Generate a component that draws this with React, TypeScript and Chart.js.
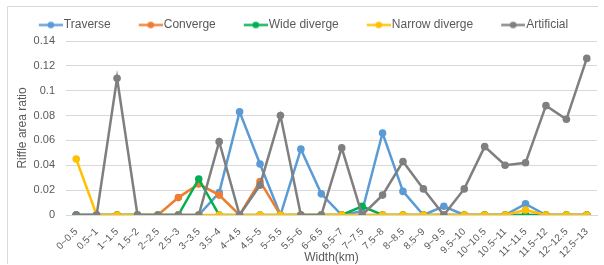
import { useEffect, useRef } from "react";
import { Chart, registerables } from "chart.js";

Chart.register(...registerables);

const categories = [
  "0~0.5", "0.5~1", "1~1.5", "1.5~2", "2~2.5", "2.5~3", "3~3.5", "3.5~4", "4~4.5", "4.5~5",
  "5~5.5", "5.5~6", "6~6.5", "6.5~7", "7~7.5", "7.5~8", "8~8.5", "8.5~9", "9~9.5", "9.5~10",
  "10~10.5", "10.5~11", "11~11.5", "11.5~12", "12~12.5", "12.5~13",
];

const traverse = [0, 0, 0, 0, 0, 0, 0, 0.018, 0.083, 0.041, 0, 0.053, 0.017, 0, 0.003, 0.066, 0.019, 0, 0.007, 0, 0, 0, 0.009, 0, 0, 0];
const converge = [0, 0, 0, 0, 0, 0.014, 0.025, 0.016, 0, 0.027, 0, 0, 0, 0, 0, 0, 0, 0, 0, 0, 0, 0, 0, 0, 0, 0];
const wideDiverge = [0, 0, 0, 0, 0, 0, 0.029, 0, 0, 0, 0, 0, 0, 0, 0.007, 0, 0, 0, 0, 0, 0, 0, 0, 0, 0, 0];
const narrowDiverge = [0.045, 0, 0, 0, 0, 0, 0, 0, 0, 0, 0, 0, 0, 0, 0, 0, 0, 0, 0, 0, 0, 0, 0.004, 0, 0, 0];
const artificial = [0, 0, 0.11, 0, 0, 0, 0, 0.059, 0, 0.024, 0.08, 0, 0, 0.054, 0, 0.016, 0.043, 0.021, 0, 0.021, 0.055, 0.04, 0.042, 0.088, 0.077, 0.126];

const seriesNames = ["Traverse", "Converge", "Wide diverge", "Narrow diverge", "Artificial"];
const seriesColors = ["#5B9BD5", "#ED7D31", "#00B050", "#FFC000", "#7F7F7F"];
const seriesValues = [traverse, converge, wideDiverge, narrowDiverge, artificial];

const yTicks = [0, 0.02, 0.04, 0.06, 0.08, 0.1, 0.12, 0.14];

const TEXT = "#595959";
const FONT = "'Liberation Sans', Arial, sans-serif";

function legendSwatch(color: string): HTMLCanvasElement {
  const c = document.createElement("canvas");
  c.width = 47;
  c.height = 9;
  const g = c.getContext("2d")!;
  g.strokeStyle = color;
  g.lineWidth = 2.25;
  g.beginPath();
  g.moveTo(23, 4.5);
  g.lineTo(47, 4.5);
  g.stroke();
  g.fillStyle = color;
  g.beginPath();
  g.arc(35, 4.5, 3.3, 0, Math.PI * 2);
  g.fill();
  return c;
}

export default function App() {
  const ref = useRef<HTMLCanvasElement>(null);

  useEffect(() => {
    document.body.style.margin = "0";
    const canvas = ref.current;
    if (!canvas) return;
    const swatches = seriesColors.map(legendSwatch);

    const framePlugin = {
      id: "frame",
      afterLayout(chart: any) {
        const lg = chart.legend;
        if (lg) {
          lg.left -= 8;
          lg.right -= 8;
        }
      },
      beforeDraw(chart: any) {
        const ctx = chart.ctx;
        ctx.save();
        ctx.strokeStyle = "#d9d9d9";
        ctx.lineWidth = 1;
        ctx.beginPath();
        ctx.moveTo(7.5, 264);
        ctx.lineTo(7.5, 6.5);
        ctx.lineTo(598, 6.5);
        ctx.stroke();
        ctx.restore();
      },
    };

    const chart = new Chart(canvas, {
      type: "line",
      data: {
        labels: categories,
        datasets: seriesValues.map((vals, i) => ({
          label: seriesNames[i],
          data: vals,
          borderColor: seriesColors[i],
          backgroundColor: seriesColors[i],
          pointBackgroundColor: seriesColors[i],
          pointBorderColor: seriesColors[i],
          borderWidth: 2.5,
          pointRadius: 3.8,
          pointBorderWidth: 0,
          tension: 0,
          fill: false,
          order: seriesValues.length - 1 - i,
        })),
      },
      options: {
        animation: false,
        responsive: false,
        maintainAspectRatio: false,
        devicePixelRatio: 1,
        layout: { padding: { left: 8, right: 7, top: 9, bottom: 0 } },
        plugins: {
          tooltip: { enabled: false },
          legend: {
            display: true,
            position: "top",
            labels: {
              usePointStyle: true,
              pointStyleWidth: 37,
              padding: 10,
              color: TEXT,
              font: { family: FONT, size: 12 },
              generateLabels: (ch: any) =>
                ch.data.datasets.map((ds: any, i: number) => ({
                  text: ds.label,
                  pointStyle: swatches[i],
                  fillStyle: seriesColors[i],
                  strokeStyle: seriesColors[i],
                  lineWidth: 0,
                  fontColor: TEXT,
                  hidden: false,
                  datasetIndex: i,
                })),
            },
          },
        },
        scales: {
          x: {
            type: "category",
            offset: true,
            grid: { display: false },
            border: { display: true, color: "#d9d9d9" },
            ticks: {
              autoSkip: false,
              maxRotation: 45,
              minRotation: 45,
              padding: 3,
              color: TEXT,
              font: { family: FONT, size: 10 },
            },
            title: {
              display: true,
              text: "Width(km)",
              color: TEXT,
              font: { family: FONT, size: 12 },
              padding: { top: 0, bottom: 0 },
            },
            afterFit: (s: any) => {
              s.height = 50;
            },
          },
          y: {
            min: 0,
            max: 0.14,
            afterBuildTicks: (s: any) => {
              s.ticks = yTicks.map((v) => ({ value: v }));
            },
            grid: { color: "#d9d9d9", drawTicks: false, lineWidth: 1 },
            border: { display: false },
            ticks: {
              padding: 11,
              color: TEXT,
              font: { family: FONT, size: 11 },
              callback: (v: any) => String(Number(Number(v).toFixed(2))),
            },
            title: {
              display: true,
              text: "Riffle area ratio",
              color: TEXT,
              font: { family: FONT, size: 12 },
              padding: { top: 7.5, bottom: 0 },
            },
            afterFit: (s: any) => {
              s.width = 58;
            },
          },
        },
      },
      plugins: [framePlugin],
    } as any);

    return () => chart.destroy();
  }, []);

  return (
    <div style={{ width: 604, height: 265, position: "relative" }}>
      <canvas ref={ref} width={604} height={265} style={{ display: "block", width: 604, height: 265 }} />
    </div>
  );
}
